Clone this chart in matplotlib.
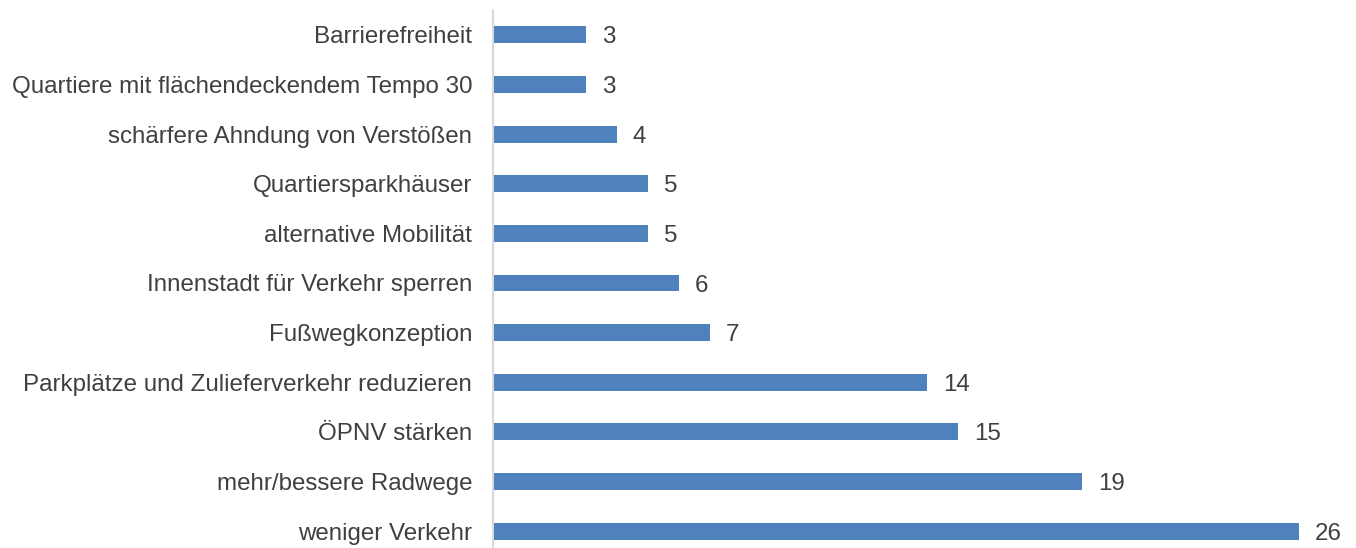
import matplotlib
matplotlib.use('Agg')
import matplotlib.pyplot as plt

matplotlib.rc('font', family='Liberation Sans', size=17.4)

categories = ["weniger Verkehr", "mehr/bessere Radwege", "ÖPNV stärken",
              "Parkplätze und Zulieferverkehr reduzieren", "Fußwegkonzeption",
              "Innenstadt für Verkehr sperren", "alternative Mobilität",
              "Quartiersparkhäuser", "schärfere Ahndung von Verstößen",
              "Quartiere mit flächendeckendem Tempo 30", "Barrierefreiheit"]
values = [26, 19, 15, 14, 7, 6, 5, 5, 4, 3, 3]

text_col = '#404040'
fig = plt.figure(figsize=(13.56, 5.48), dpi=100)
ax = fig.add_axes([493 / 1356, -8 / 548, 27.5 * 31 / 1356, 546 / 548])

ypos = range(len(categories))
ax.barh(ypos, values, height=0.34, color='#4F81BD')
for y, v in zip(ypos, values):
    ax.annotate(str(v), (v, y), xytext=(11.5, 0), textcoords='offset points',
                va='center_baseline', ha='left', color=text_col)

ax.set_xlim(0, 27.5)
ax.set_ylim(-0.5, len(categories) - 0.5)
ax.set_yticks(list(ypos))
ax.set_yticklabels(categories, color=text_col)
ax.tick_params(axis='y', length=0, pad=15)
ax.set_xticks([])
for s in ['top', 'right', 'bottom']:
    ax.spines[s].set_visible(False)
ax.spines['left'].set_color('#D9D9D9')
ax.spines['left'].set_linewidth(1.5)

fig.savefig('out.png', dpi=100)
